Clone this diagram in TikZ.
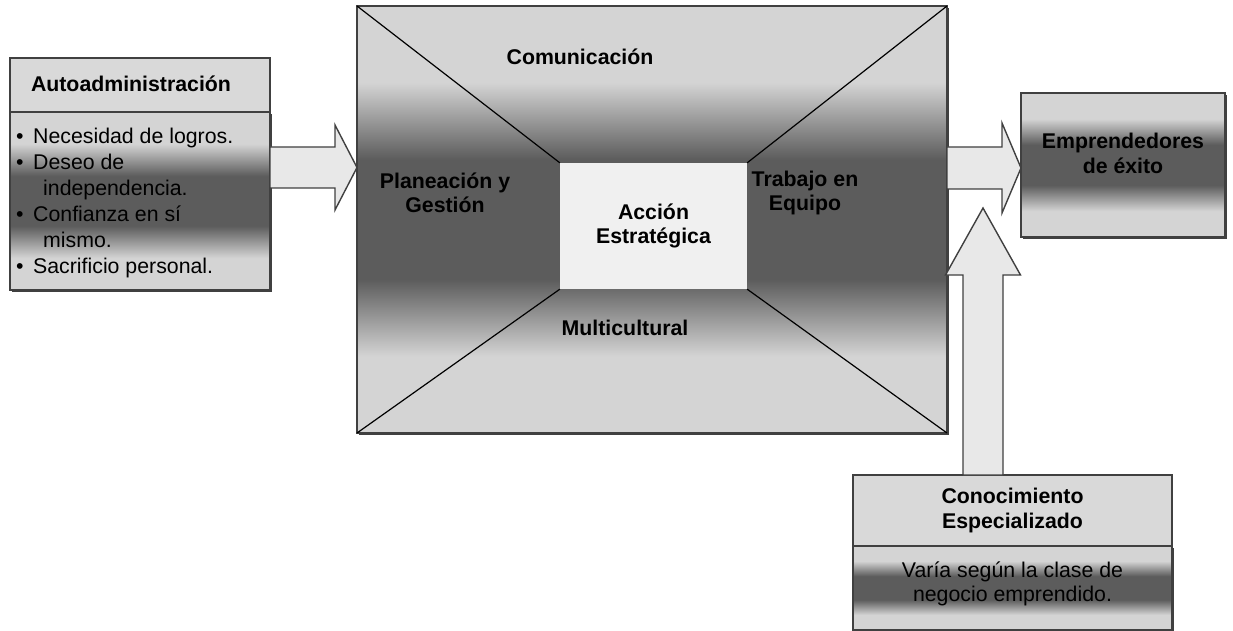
\documentclass[tikz,border=0pt]{standalone}
\usepackage{fontspec}
\setmainfont{Liberation Sans}
\usetikzlibrary{calc,shadows}

% greys of the panel shading: light edges, dark middle band
\definecolor{shL}{gray}{0.83}
\definecolor{shD}{gray}{0.36}
\pgfdeclareverticalshading{band}{100bp}{color(0bp)=(shL); color(34bp)=(shL); color(43bp)=(shD); color(57bp)=(shD); color(66bp)=(shL); color(100bp)=(shL)}

% block arrow pointing right: from, tip, half shaft, half head, head length
\newcommand\fatright[5]{%
  \draw[fatarrow] ($(#1)+(0,#3)$) -- ($(#2)+(-#5,#3)$) -- ($(#2)+(-#5,#4)$) -- (#2)
    -- ($(#2)+(-#5,-#4)$) -- ($(#2)+(-#5,-#3)$) -- ($(#1)+(0,-#3)$) -- cycle;}
% block arrow pointing up (y axis runs downwards)
\newcommand\fatup[5]{%
  \draw[fatarrow] ($(#1)+(-#3,0)$) -- ($(#2)+(-#3,#5)$) -- ($(#2)+(-#4,#5)$) -- (#2)
    -- ($(#2)+(#4,#5)$) -- ($(#2)+(#3,#5)$) -- ($(#1)+(#3,0)$) -- cycle;}

\begin{document}
\begin{tikzpicture}[x=1pt,y=-1pt,
  box/.style={draw=black!75, line width=1.1pt, inner sep=0pt, outer sep=0pt},
  panel/.style={box, shading=band},
  header/.style={box, fill=black!15},
  shadowed/.style={drop shadow={shadow xshift=1.5pt, shadow yshift=-2.2pt, fill=black!75, opacity=1}},
  lbl/.style={font=\fontsize{21.3}{24.5}\selectfont\bfseries, align=center, inner sep=0pt},
  itemtext/.style={font=\fontsize{21.3}{26}\selectfont, align=left, inner sep=0pt},
  fatarrow/.style={draw=black!75, line width=1.4pt, fill=black!9, line join=miter},
  diag/.style={draw=black, line width=1.2pt},
]
\useasboundingbox (0,0) rectangle (1233,631);

% ---- Autoadministración ----
\node[header, minimum width=260pt, minimum height=54pt] (lhead) at (140,85) {};
\node[panel, shadowed, minimum width=260pt, minimum height=178pt] (lbody) at (140,201) {};
\node[lbl] (ltitle) at (131,84) {Autoadministración};
\node[itemtext, anchor=west] (litems) at (16,203) {%
  \makebox[17pt][l]{•}Necesidad de logros.\\
  \makebox[17pt][l]{•}Deseo de\\
  \hspace*{27pt}independencia.\\
  \makebox[17pt][l]{•}Confianza en sí\\
  \hspace*{27pt}mismo.\\
  \makebox[17pt][l]{•}Sacrificio personal.};

% ---- central frame ----
\node[panel, shadowed, minimum width=590pt, minimum height=427pt] (main) at (652,219.5) {};
\node[fill=black!6, inner sep=0pt, minimum width=187pt, minimum height=126pt] (core) at (653.5,226) {};
\draw[diag] (main.north west) -- (core.north west);
\draw[diag] (main.north east) -- (core.north east);
\draw[diag] (main.south west) -- (core.south west);
\draw[diag] (main.south east) -- (core.south east);
\node[lbl] (accion) at (core) {Acción\\Estratégica};
\node[lbl] (comu) at (580,57) {Comunicación};
\node[lbl] (plan) at (445,193) {Planeación y\\Gestión};
\node[lbl] (equipo) at (805,193) {Trabajo en\\Equipo};
\node[lbl] (multi) at (625,328) {Multicultural};

% ---- Emprendedores de éxito ----
\node[panel, shadowed, minimum width=204pt, minimum height=144pt] (emp) at (1123,165) {};
\node[lbl] (emptext) at (1123,153.5) {Emprendedores\\de éxito};

% ---- Conocimiento especializado ----
\node[header, minimum width=319pt, minimum height=71pt] (cohead) at (1012.5,510.5) {};
\node[panel, shadowed, minimum width=319pt, minimum height=84pt] (cobody) at (1012.5,588) {};
\node[lbl] (cotitle) at (cohead) {Conocimiento\\Especializado};
\node[itemtext, align=center, font=\fontsize{21.3}{24}\selectfont] (cotext) at (1012.5,584) {Varía según la clase de\\negocio emprendido.};

% ---- block arrows ----
\coordinate (ltip) at (main.west |- 0,167.5);
\coordinate (lstart) at (lbody.east |- ltip);
\fatright{lstart}{ltip}{20.5}{42.5}{22}

\coordinate (rtip) at (emp.west |- 0,168);
\coordinate (rstart) at (main.east |- rtip);
\fatright{rstart}{rtip}{21}{45}{19}

\coordinate (ustart) at (cohead.north -| 983,0);
\coordinate (utip) at (983,208);
\fatup{ustart}{utip}{20}{37.5}{67}
\end{tikzpicture}
\end{document}
